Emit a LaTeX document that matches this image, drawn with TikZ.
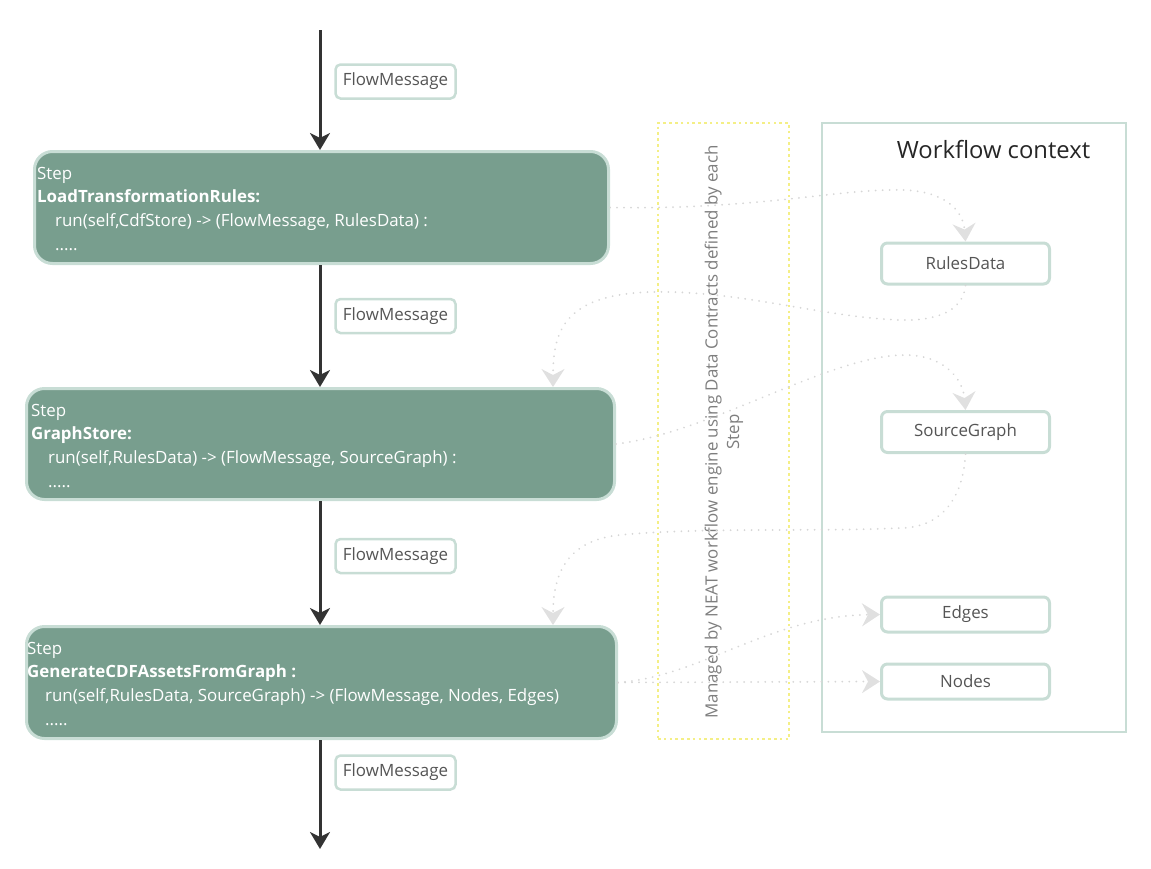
\documentclass[tikz,border=0pt]{standalone}
\usepackage{fontspec}
\setmainfont{Open Sans}
\usetikzlibrary{arrows.meta}
\definecolor{stepfill}{HTML}{789E8E}
\definecolor{stepborder}{HTML}{C8DDD5}
\definecolor{flowline}{HTML}{333333}
\definecolor{dotgray}{HTML}{D6D6D6}
\definecolor{headgray}{HTML}{E0E0E0}
\definecolor{lbltext}{HTML}{555555}
\definecolor{notetext}{HTML}{7E7E7E}
\definecolor{yel}{HTML}{F4EF86}
\begin{document}
\begin{tikzpicture}[x=1pt,y=-1pt,
  stepbox/.style={draw=stepborder, line width=3pt, fill=stepfill, rounded corners=18pt, inner sep=0pt},
  steptxt/.style={anchor=base west, inner sep=0pt, text=white, font=\fontsize{16.9}{20}\selectfont},
  msgbox/.style={draw=stepborder, line width=2.5pt, fill=white, rounded corners=5pt, minimum width=120pt, minimum height=34pt, inner sep=0pt, text=lbltext, font=\fontsize{16.9}{20}\selectfont},
  databox/.style={draw=stepborder, line width=3pt, fill=white, rounded corners=6pt, minimum width=168pt, inner sep=0pt, text=lbltext, font=\fontsize{16.9}{20}\selectfont},
  flow/.style={draw=flowline, line width=3pt, -{Stealth[length=17pt,width=20pt,inset=5pt]}},
  dataflow/.style={draw=dotgray, line width=2pt, dash pattern=on 0.01pt off 7pt, line cap=round, -{Stealth[length=18pt,width=23pt,inset=6pt,color=headgray,fill=headgray]}}
]
\useasboundingbox (0,0) rectangle (1151,868);

% side frames
\node[draw=yel, line width=2.6pt, dash pattern=on 2.6pt off 3.2pt, minimum width=131pt, minimum height=616pt, inner sep=0pt] (mgd) at (723.5,431) {};
\node[rotate=90, align=center, text=notetext, font=\fontsize{16.9}{21.5}\selectfont] (mgdtxt) at (724,432) {Managed by NEAT workflow engine using Data Contracts defined by each\\Step};
\node[draw=stepborder, line width=2.5pt, minimum width=304pt, minimum height=609pt, inner sep=0pt] (ctx) at (974,427.5) {};
\node[text=black!85, font=\fontsize{23.8}{28}\selectfont, inner sep=0pt] (ctxtitle) at (993.5,150) {Workflow context};

% data boxes
\node[databox, minimum height=41pt] (rd) at (965.5,263.5) {RulesData};
\node[databox, minimum height=41pt] (sg) at (965.5,432) {SourceGraph};
\node[databox, minimum height=35pt] (ed) at (965.5,614.5) {Edges};
\node[databox, minimum height=35pt] (nd) at (965.5,681.5) {Nodes};

% steps
\node[stepbox, minimum width=574pt, minimum height=112pt] (s1) at (321.5,207.5) {};
\node[steptxt] (s1a) at (37,179) {Step};
\node[steptxt, font=\fontsize{16.9}{20}\selectfont\bfseries] (s1b) at (37,202.5) {LoadTransformationRules:};
\node[steptxt] (s1c) at (55,226.5) {run(self,CdfStore) -> (FlowMessage, RulesData) :};
\node[steptxt] (s1d) at (55,250) {.....};

\node[stepbox, minimum width=588pt, minimum height=111pt] (s2) at (320.5,444) {};
\node[steptxt] (s2a) at (31,416) {Step};
\node[steptxt, font=\fontsize{16.9}{20}\selectfont\bfseries] (s2b) at (31,439.5) {GraphStore:};
\node[steptxt] (s2c) at (48,463.5) {run(self,RulesData) -> (FlowMessage, SourceGraph) :};
\node[steptxt] (s2d) at (48,487) {.....};

\node[stepbox, minimum width=590pt, minimum height=112pt] (s3) at (321.5,682.5) {};
\node[steptxt] (s3a) at (27,654) {Step};
\node[steptxt, font=\fontsize{16.9}{20}\selectfont\bfseries] (s3b) at (27,677.5) {GenerateCDFAssetsFromGraph :};
\node[steptxt] (s3c) at (45,701.5) {run(self,RulesData, SourceGraph) -> (FlowMessage, Nodes, Edges)};
\node[steptxt] (s3d) at (45,725) {.....};

% flow messages
\node[msgbox] (fm1) at (395.5,81.5) {FlowMessage};
\node[msgbox] (fm2) at (395.5,316) {FlowMessage};
\node[msgbox] (fm3) at (395.5,556) {FlowMessage};
\node[msgbox] (fm4) at (395.5,772.5) {FlowMessage};

\coordinate (start) at (320,30);
\coordinate (finish) at (320,849);
\draw[flow] (start) -- (start |- s1.north);
\draw[flow] (start |- s1.south) -- (start |- s2.north);
\draw[flow] (start |- s2.south) -- (start |- s3.north);
\draw[flow] (start |- s3.south) -- (finish);

% data contract connectors
\draw[dataflow] (s1.east) .. controls (760,210) and (840,188) .. (905,190) .. controls (945,192) and (963,210) .. (rd.north);
\draw[dataflow] (rd.south) .. controls (963,312) and (935,321) .. (900,320) .. controls (820,317) and (740,290) .. (650,292) .. controls (565,295) and (553,330) .. ([xshift=-63pt]s2.north east);
\draw[dataflow] (s2.east) .. controls (710,433) and (830,355) .. (905,355) .. controls (945,355) and (963,380) .. (sg.north);
\draw[dataflow] (sg.south) .. controls (963,500) and (940,528) .. (900,528) .. controls (820,532) and (700,527) .. (620,535) .. controls (570,540) and (553,570) .. ([xshift=-65pt]s3.north east);
\draw[dataflow] (s3.east) .. controls (700,677) and (770,616) .. (ed.west);
\draw[dataflow] (s3.east) -- (nd.west);
\end{tikzpicture}
\end{document}
